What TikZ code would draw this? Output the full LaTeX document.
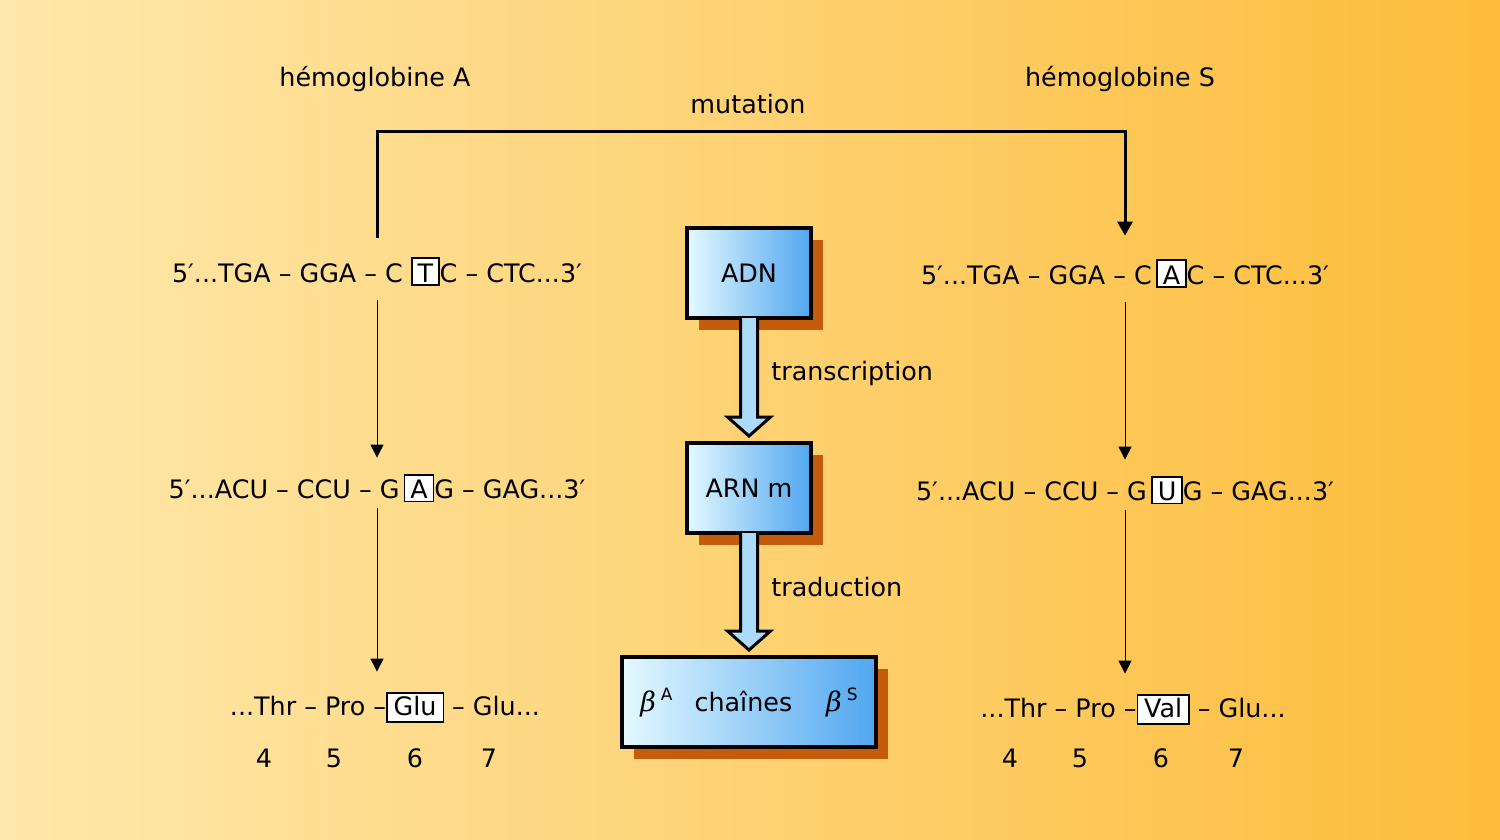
\documentclass[tikz,border=0pt]{standalone}
\usepackage{fontspec}
\setmainfont{DejaVu Sans}
\newfontfamily\grkfont{DejaVu Serif}
\usetikzlibrary{positioning,shadows,calc,arrows.meta}

\definecolor{bgleft}{RGB}{255,232,172}
\definecolor{bgright}{RGB}{253,188,58}
\definecolor{boxlight}{RGB}{228,249,255}
\definecolor{boxblue}{RGB}{80,166,240}
\definecolor{arrowblue}{RGB}{172,218,250}
\definecolor{shadowbrown}{RGB}{196,92,12}

% boxed base / boxed residue
\newcommand{\mutbox}[1]{{\setlength{\fboxsep}{0pt}\setlength{\fboxrule}{0.8pt}\fcolorbox{black}{white}{\rule[-1pt]{0pt}{12.5pt}\hspace{2.5pt}#1\hspace{2.5pt}}}}
\newcommand{\resbox}[1]{{\setlength{\fboxsep}{0pt}\setlength{\fboxrule}{0.8pt}\fcolorbox{black}{white}{\rule[-3pt]{0pt}{13.5pt}\hspace{3pt}#1\hspace{3pt}}}}
\newcommand{\betachain}[1]{{\grkfont\itshape\fontsize{13.5}{15}\selectfont β}\hspace{2.5pt}\raisebox{5.5pt}{\fontsize{8.5}{9}\selectfont #1}}

\pgfdeclarelayer{bg}
\pgfdeclarelayer{shade}
\pgfsetlayers{bg,shade,main}

\begin{document}
\begin{tikzpicture}[x=0.5pt, y=-0.5pt,
  seq/.style={inner sep=0pt, text height=9.5pt, text depth=2.5pt, font=\fontsize{12.7}{15}\selectfont},
  stage/.style={draw, line width=2pt, left color=boxlight, right color=boxblue,
    minimum width=62pt, minimum height=45pt, font=\fontsize{12.7}{15}\selectfont,
    drop shadow={shadow xshift=6pt, shadow yshift=-6pt, fill=shadowbrown, opacity=1}},
  seqarrow/.style={-{Triangle[length=6.5pt,width=6.5pt]}, line width=0.5pt},
  mutline/.style={-{Triangle[length=7pt,width=7.5pt]}, line width=1.5pt, line join=miter},
  flowarrow/.style={fill=arrowblue, draw, line width=1.5pt, line join=miter}]

\begin{pgfonlayer}{bg}
  \shade[left color=bgleft, right color=bgright] (0,0) rectangle (1500,840);
\end{pgfonlayer}
\useasboundingbox (0,0) rectangle (1500,840);

% hemoglobine A
\node[seq] (hbA) at (375,80) {hémoglobine A};
\node[seq] (dnaA) at (377,275) {5′...TGA – GGA – C \mutbox{T}C – CTC...3′};
\node[seq, node distance=108.25pt, below of=dnaA] (rnaA) {5′...ACU – CCU – G\,\mutbox{A}G – GAG...3′};
\node[seq, node distance=108.25pt, below of=rnaA, xshift=4pt] (protA) {...Thr – Pro –\resbox{Glu} – Glu...};

% hemoglobine S
\node[seq] (hbS) at (1120,80) {hémoglobine S};
\node[seq] (dnaS) at (1125,277) {5′...TGA – GGA – C\,\mutbox{A}C – CTC...3′};
\node[seq, node distance=108.25pt, below of=dnaS] (rnaS) {5′...ACU – CCU – G\,\mutbox{U}G – GAG...3′};
\node[seq, node distance=108.25pt, below of=rnaS, xshift=4pt] (protS) {...Thr – Pro –\resbox{Val} – Glu...};

% residue numbers
\foreach \n/\x in {4/264, 5/334, 6/415, 7/489}
  \node[seq] (numA\n) at (\x,760) {\n};
\foreach \n/\x in {4/1010, 5/1080, 6/1161, 7/1236}
  \node[seq] (numS\n) at (\x,760) {\n};

% mutation
\node[seq] (mut) at (748,107) {mutation};
\coordinate (mutL) at (377,132);
\draw[mutline, shorten <=12.5pt, shorten >=14.5pt] (dnaA.north) |- (mutL) -| (dnaS.north);

\draw[seqarrow, shorten <=6.5pt, shorten >=10.75pt] (dnaA) -- (rnaA);
\draw[seqarrow, shorten <=2.25pt, shorten >=12pt] (rnaA) -- (rnaA |- protA.north);
\draw[seqarrow, shorten <=6.5pt, shorten >=10.75pt] (dnaS) -- (rnaS);
\draw[seqarrow, shorten <=2.25pt, shorten >=12pt] (rnaS) -- (rnaS |- protS.north);

% central flow
\node[stage] (adn) at (749,273) {ADN};
\node[stage, node distance=107.5pt, below of=adn] (arn) {ARN m};
\node[stage, node distance=107pt, below of=arn, minimum width=127pt] (chain)
  {\betachain{A}\hspace{11pt}chaînes\hspace{17pt}\betachain{S}};

\foreach \src/\dst/\lbl/\dy in {adn/arn/transcription/3.5pt, arn/chain/traduction/3pt} {
  \begin{pgfonlayer}{shade}
    \fill[shadowbrown, xshift=6pt, yshift=-6pt] let \p1=(\src.south), \p2=(\dst.north) in
      ({\x1-4.25pt},{\y1}) -- ({\x1-4.25pt},{\y2+12pt}) -- ({\x1-10.75pt},{\y2+12pt}) -- ({\x1},{\y2+2.5pt})
      -- ({\x1+10.75pt},{\y2+12pt}) -- ({\x1+4.25pt},{\y2+12pt}) -- ({\x1+4.25pt},{\y1}) -- cycle;
  \end{pgfonlayer}
  \draw[flowarrow] let \p1=(\src.south), \p2=(\dst.north) in
    ({\x1-4.25pt},{\y1+1pt}) -- ({\x1-4.25pt},{\y2+12pt}) -- ({\x1-10.75pt},{\y2+12pt}) -- ({\x1},{\y2+2.5pt})
    -- ({\x1+10.75pt},{\y2+12pt}) -- ({\x1+4.25pt},{\y2+12pt}) -- ({\x1+4.25pt},{\y1+1pt});
  \node[seq, anchor=west] (lbl-\src) at ($(\src.south)!0.5!(\dst.north)+(11pt,\dy)$) {\lbl};
}
\end{tikzpicture}
\end{document}
